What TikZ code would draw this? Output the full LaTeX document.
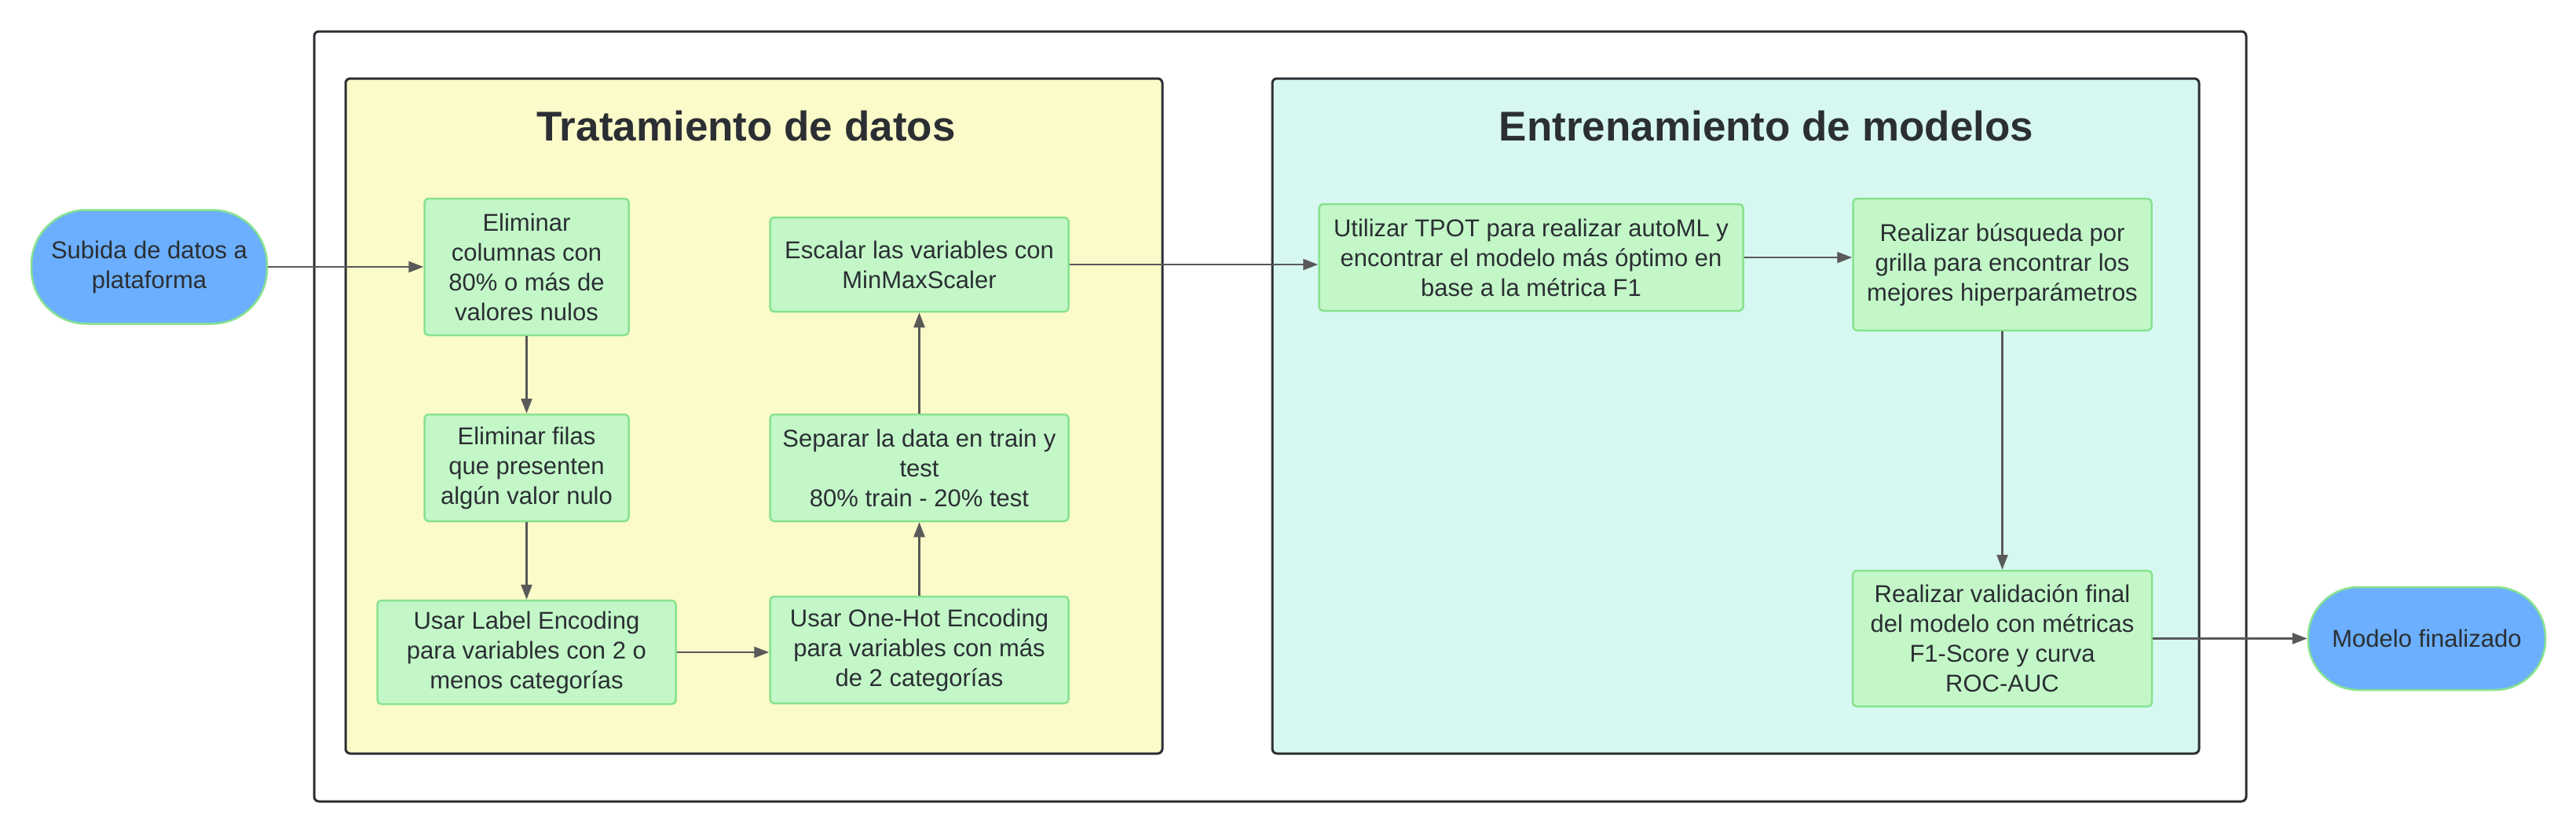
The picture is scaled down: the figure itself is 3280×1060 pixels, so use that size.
\documentclass[tikz,border=0pt]{standalone}
\usepackage{fontspec}
\setmainfont{Liberation Sans}
\usetikzlibrary{arrows.meta}
\definecolor{yellowbg}{HTML}{FBFAC9}
\definecolor{cyanbg}{HTML}{D6F8F1}
\definecolor{boxfill}{HTML}{C3F7C8}
\definecolor{boxline}{HTML}{87E28F}
\definecolor{termfill}{HTML}{6BAFFE}
\definecolor{framecol}{HTML}{2B2E33}
\definecolor{arrgray}{HTML}{595959}
\definecolor{txt}{HTML}{2B2F33}
\newcommand\mybody{\fontsize{31}{38}\selectfont}
\newcommand\mytitle{\fontsize{53}{60}\selectfont\bfseries}
\begin{document}
\begin{tikzpicture}[x=1pt,y=-1pt,
  proc/.style={draw=boxline, fill=boxfill, line width=2.5pt, rounded corners=5pt,
    align=center, text=txt, font=\mybody, inner sep=0pt},
  term/.style={draw=boxline, fill=termfill, line width=2.5pt,
    align=center, text=txt, font=\mybody, inner sep=0pt},
  frame/.style={draw=framecol, line width=3pt, rounded corners=6pt},
  arr/.style={draw=arrgray, line width=2.5pt, -{Triangle[length=19pt,width=14pt]}},
  ttl/.style={text=txt, font=\mytitle, inner sep=0pt}
]
\useasboundingbox[fill=white] (0,0) rectangle (3280,1060);
% frames
\draw[frame, fill=white] (400,40) rectangle (2860,1021);
\draw[frame, fill=yellowbg] (440,100) rectangle (1480,960);
\draw[frame, fill=cyanbg] (1620,100) rectangle (2800,960);
\node[ttl] (t1) at (950,161) {Tratamiento de datos};
\node[ttl] (t2) at (2249,161) {Entrenamiento de modelos};
% terminals
\node[term, minimum width=300pt, minimum height=145pt, rounded corners=70pt] (sub) at (190,340) {Subida de datos a\\plataforma};
\node[term, minimum width=302pt, minimum height=131pt, rounded corners=64pt] (fin) at (3090,813.5) {Modelo finalizado};
% tratamiento
\node[proc, minimum width=260pt, minimum height=174pt] (c1) at (670.5,340) {Eliminar\\columnas con\\80\% o más de\\valores nulos};
\node[proc, minimum width=260pt, minimum height=136pt] (c2) at (670.5,596) {Eliminar filas\\que presenten\\algún valor nulo};
\node[proc, minimum width=380pt, minimum height=132pt] (c3) at (670.5,831) {Usar Label Encoding\\para variables con 2 o\\menos categorías};
\node[proc, minimum width=380pt, minimum height=136pt] (c4) at (1170.5,828) {Usar One-Hot Encoding\\para variables con más\\de 2 categorías};
\node[proc, minimum width=380pt, minimum height=136pt] (c5) at (1170.5,596) {Separar la data en train y\\test\\80\% train - 20\% test};
\node[proc, minimum width=380pt, minimum height=120pt] (c6) at (1170.5,337) {Escalar las variables con\\MinMaxScaler};
% entrenamiento
\node[proc, minimum width=540pt, minimum height=136pt] (e1) at (1949.5,328) {Utilizar TPOT para realizar autoML y\\encontrar el modelo más óptimo en\\base a la métrica F1};
\node[proc, minimum width=380pt, minimum height=168pt] (e2) at (2549.5,337) {Realizar búsqueda por\\grilla para encontrar los\\mejores hiperparámetros};
\node[proc, minimum width=381pt, minimum height=173pt] (e3) at (2549.5,813.5) {Realizar validación final\\del modelo con métricas\\F1-Score y curva\\ROC-AUC};
% connectors
\draw[arr] (sub.east) -- (c1.west);
\draw[arr] (c1.south) -- (c2.north);
\draw[arr] (c2.south) -- (c3.north);
\draw[arr] (c3.east) -- (c3.east -| c4.west);
\draw[arr] (c4.north) -- (c5.north |- c5.south);
\draw[arr] (c5.north) -- (c6.south);
\draw[arr] (c6.east) -- (c6.east -| e1.west);
\draw[arr] (e1.east) -- (e1.east -| e2.west);
\draw[arr] (e2.south) -- (e3.north);
\draw[arr] (e3.east) -- (fin.west);
\end{tikzpicture}
\end{document}
